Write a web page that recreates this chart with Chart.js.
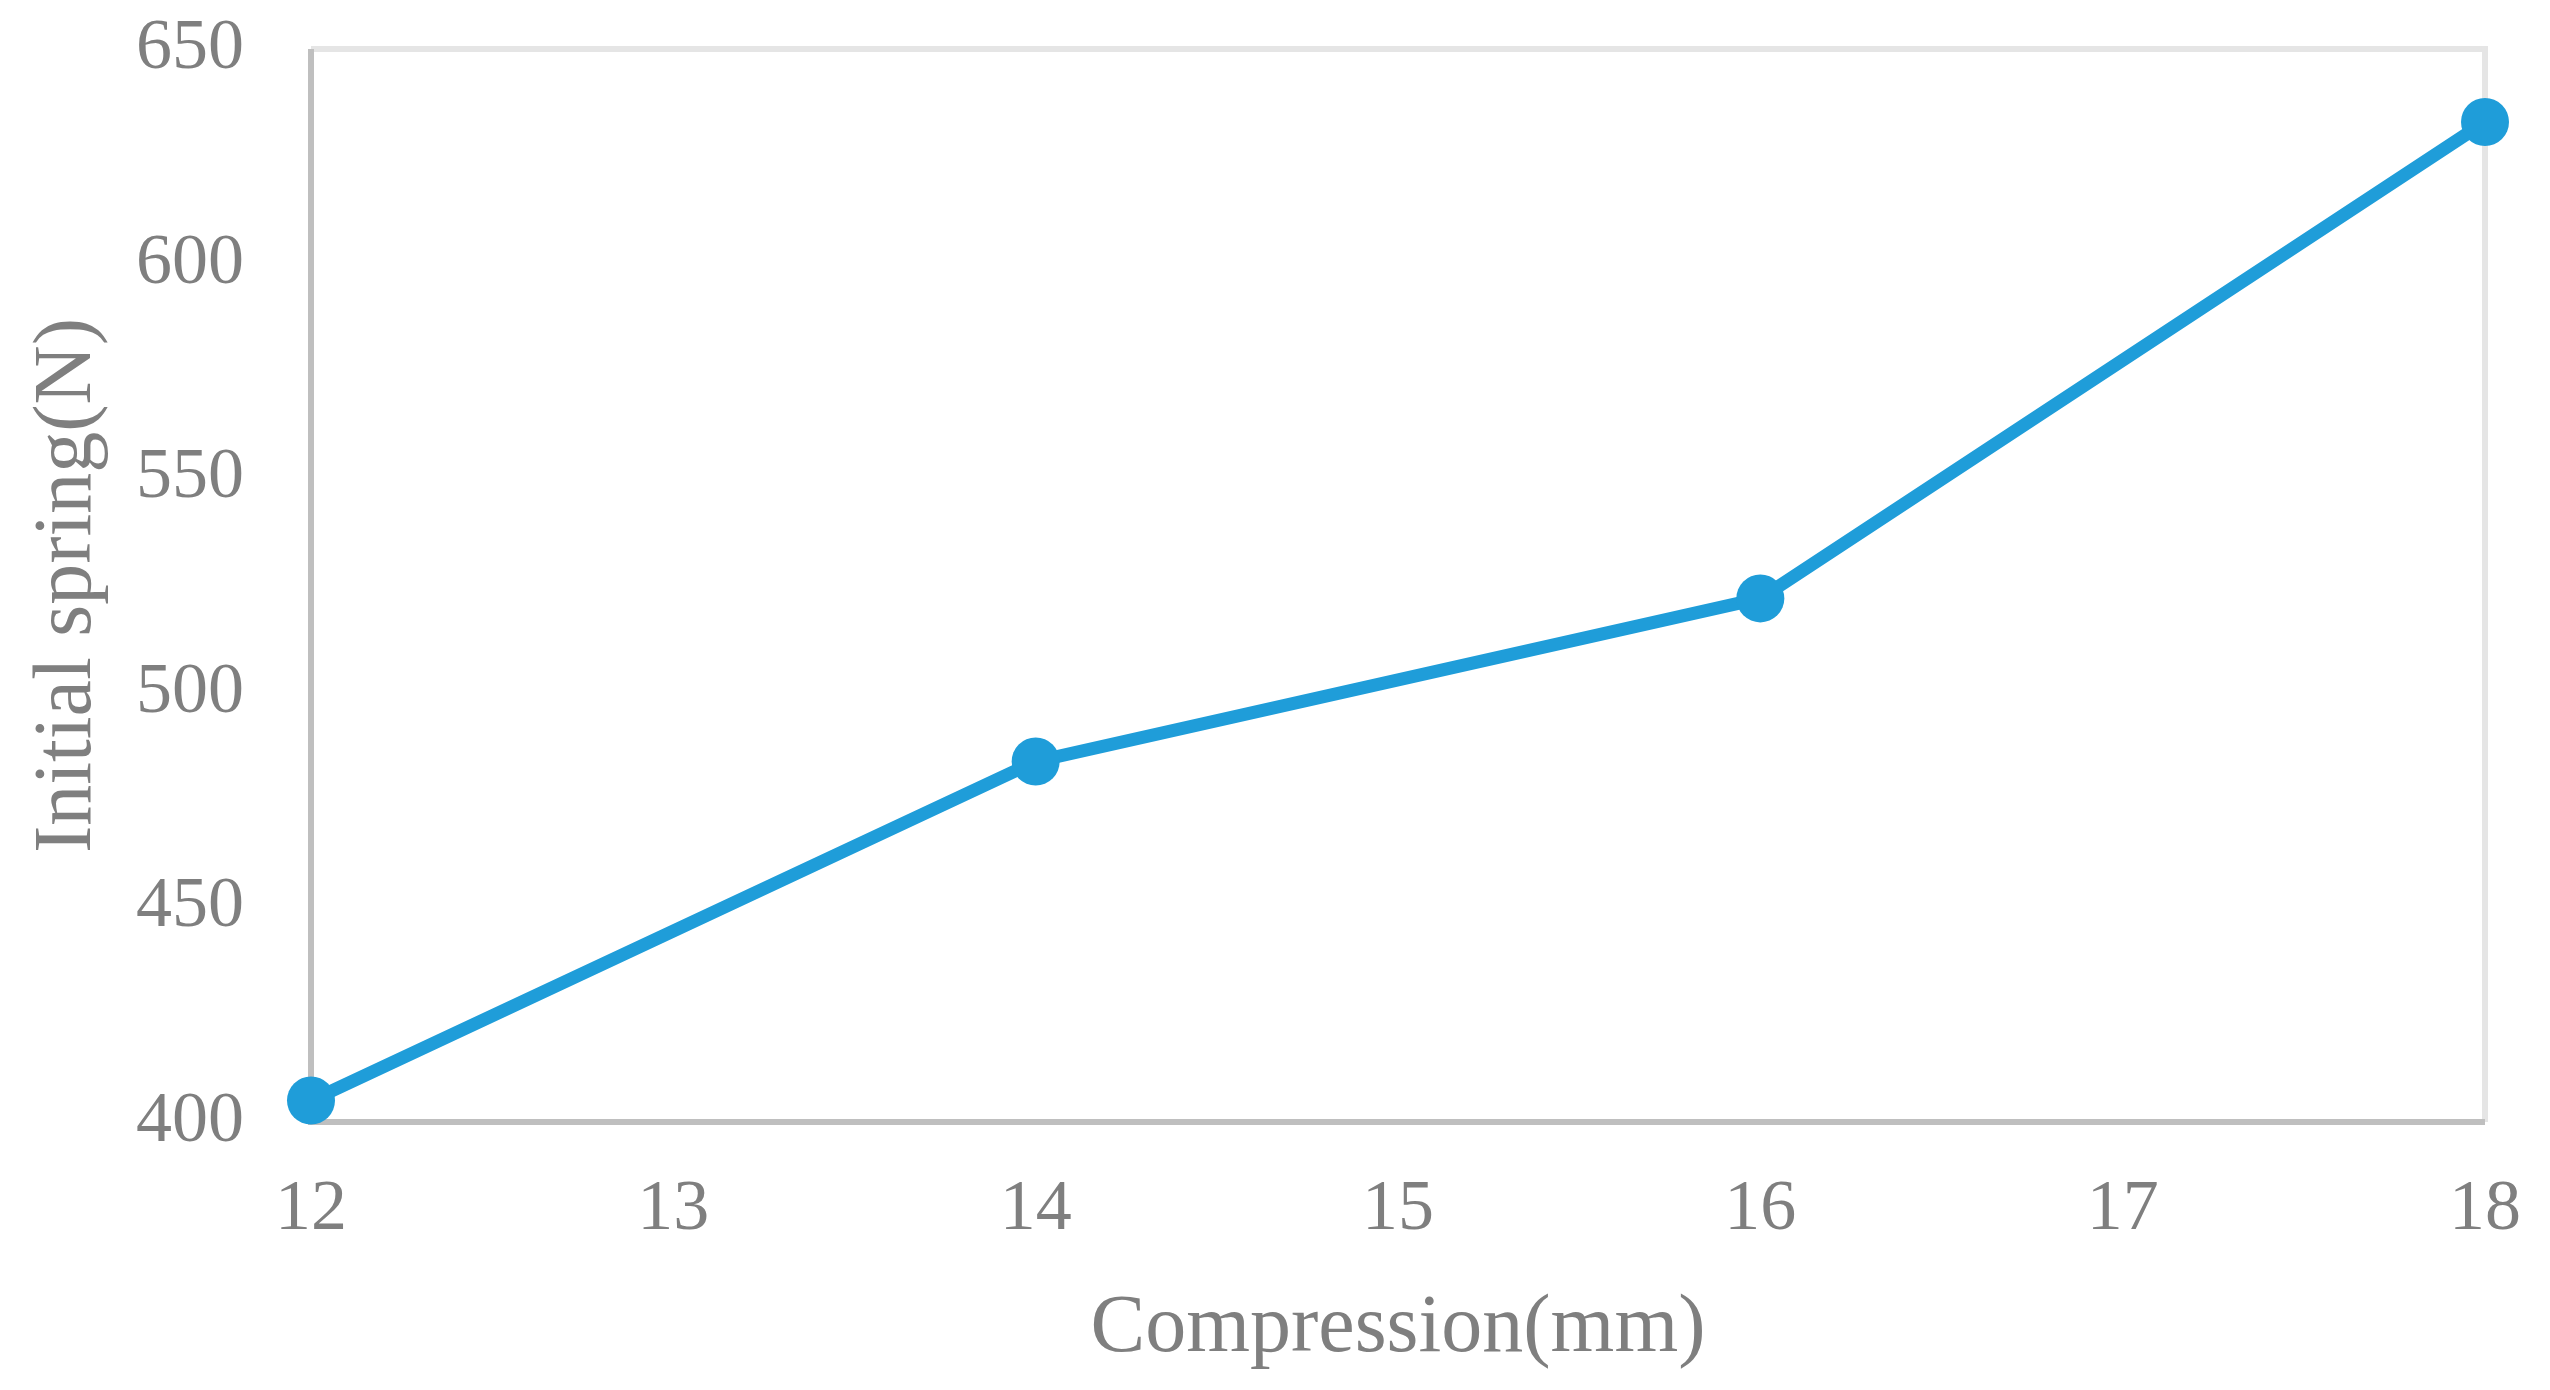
<!DOCTYPE html>
<html>
<head>
<meta charset="utf-8">
<script src="https://cdn.jsdelivr.net/npm/chart.js@4"></script>
<style>
  html, body { margin: 0; padding: 0; background: #fff; }
  #wrap { width: 2550px; height: 1390px; }
</style>
</head>
<body>
<div id="wrap"><canvas id="chartCanvas" width="2550" height="1390"></canvas></div>
<script>
// dados
const compressao = [12, 14, 16, 18];
const forcaInicial = [405, 484, 522, 633];
const xTicks = [12, 13, 14, 15, 16, 17, 18];
const yTicks = [400, 450, 500, 550, 600, 650];

const corLinha = "#1f9dd9";
const corTexto = "#7f7f7f";

// moldura clara em volta da área do gráfico
const moldura = {
  id: "moldura",
  beforeDatasetsDraw(chart) {
    const { ctx, chartArea: a } = chart;
    ctx.save();
    ctx.strokeStyle = "#e5e5e5";
    ctx.lineWidth = 6;
    ctx.beginPath();
    ctx.moveTo(a.left, a.top);
    ctx.lineTo(a.right, a.top);
    ctx.lineTo(a.right, a.bottom);
    ctx.stroke();
    ctx.strokeStyle = "#bfbfbf";
    ctx.beginPath();
    ctx.moveTo(a.left, a.top);
    ctx.lineTo(a.left, a.bottom);
    ctx.lineTo(a.right, a.bottom);
    ctx.stroke();
    ctx.restore();
  }
};

new Chart(document.getElementById("chartCanvas"), {
  type: "line",
  data: {
    datasets: [{
      data: compressao.map((x, i) => ({ x, y: forcaInicial[i] })),
      borderColor: corLinha,
      backgroundColor: corLinha,
      borderWidth: 13,
      pointRadius: 24,
      pointBorderWidth: 0,
      pointBackgroundColor: corLinha,
      fill: false,
      tension: 0,
      clip: false
    }]
  },
  options: {
    responsive: false,
    animation: false,
    devicePixelRatio: 1,
    layout: { padding: { top: 49, right: 65, left: 0, bottom: 0 } },
    plugins: { legend: { display: false }, tooltip: { enabled: false } },
    scales: {
      x: {
        type: "linear",
        min: 12, max: 18,
        afterBuildTicks: s => { s.ticks = xTicks.map(v => ({ value: v })); },
        afterFit: s => { s.height = 268; s.paddingLeft = 0; s.paddingRight = 0; },
        grid: { display: false, drawTicks: false },
        border: { display: false },
        ticks: { color: corTexto, padding: 45, font: { family: "Liberation Serif", size: 72 } },
        title: {
          display: true, text: "Compression(mm)", color: corTexto,
          padding: { top: 0, bottom: 11 },
          font: { family: "Liberation Serif", size: 82 }
        }
      },
      y: {
        min: 400, max: 650,
        afterBuildTicks: s => { s.ticks = yTicks.map(v => ({ value: v })); },
        afterFit: s => { s.width = 311; s.paddingTop = 0; s.paddingBottom = 0; },
        grid: { display: false, drawTicks: false },
        border: { display: false },
        ticks: { color: corTexto, padding: 67, font: { family: "Liberation Serif", size: 72 } },
        title: {
          display: true, text: "Initial spring(N)", color: corTexto,
          padding: { top: 19, bottom: 0 },
          font: { family: "Liberation Serif", size: 82 }
        }
      }
    }
  },
  plugins: [moldura]
});
</script>
</body>
</html>
